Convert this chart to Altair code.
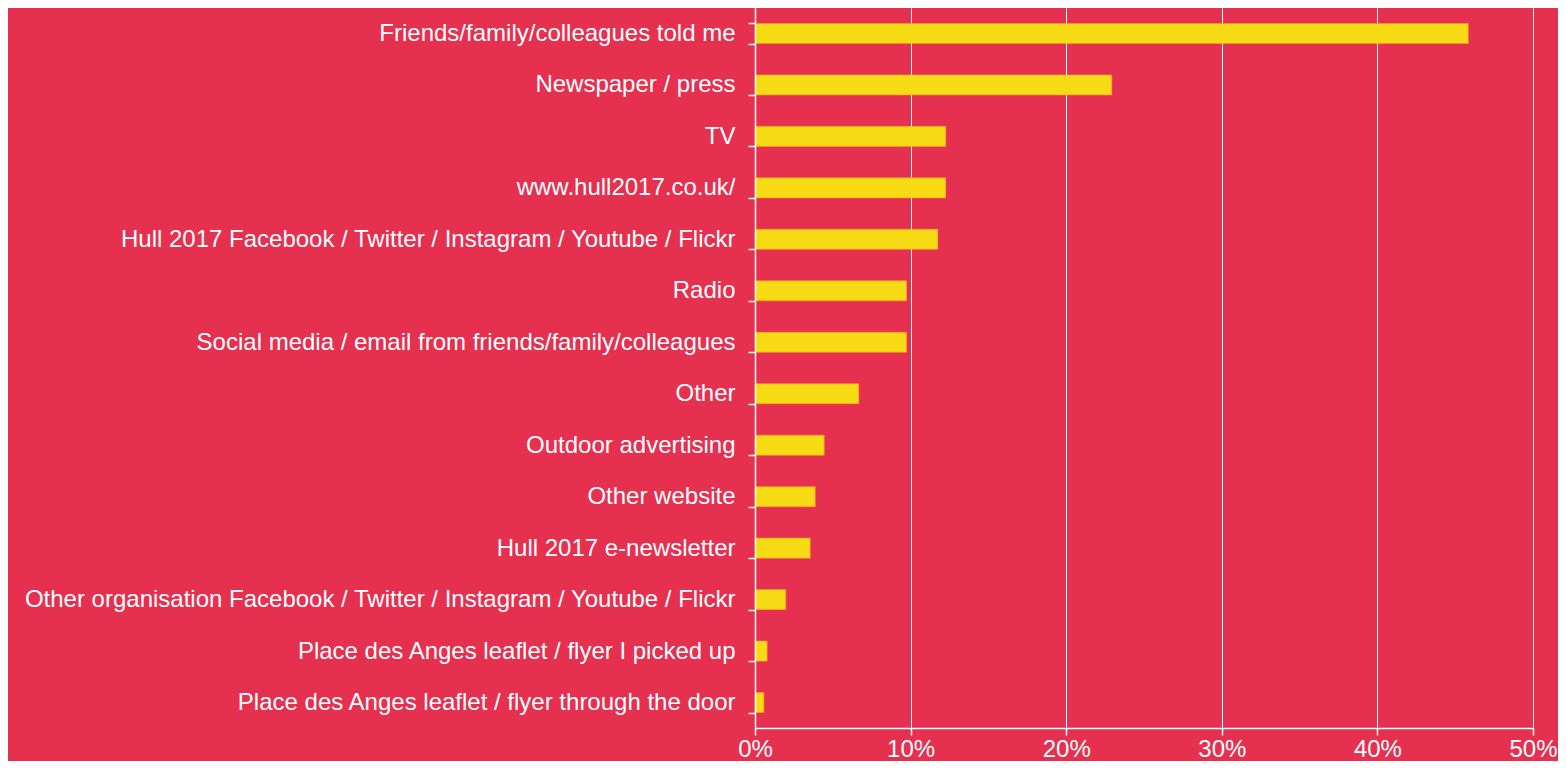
import altair as alt
import pandas as pd

categories = [
    "Friends/family/colleagues told me",
    "Newspaper / press",
    "TV",
    "www.hull2017.co.uk/",
    "Hull 2017 Facebook / Twitter / Instagram / Youtube / Flickr",
    "Radio",
    "Social media / email from friends/family/colleagues",
    "Other ",
    "Outdoor advertising",
    "Other website ",
    "Hull 2017 e-newsletter",
    "Other organisation Facebook / Twitter / Instagram / Youtube / Flickr ",
    "Place des Anges leaflet / flyer I picked up",
    "Place des Anges leaflet / flyer through the door",
]
values = [0.4584, 0.2293, 0.1226, 0.1226, 0.1175, 0.0974, 0.0974, 0.0667,
          0.0445, 0.0387, 0.0355, 0.0198, 0.0078, 0.0057]

df = pd.DataFrame({"source": categories, "share": values})

BG = "#E6304F"
YELLOW = "#F7DC15"

chart = (
    alt.Chart(df)
    .mark_bar(color=YELLOW, stroke="#F29A2E", strokeWidth=0.6)
    .encode(
        y=alt.Y(
            "source:N",
            sort=categories,
            title=None,
            scale=alt.Scale(paddingInner=0.61, paddingOuter=0.3),
            axis=alt.Axis(
                tickBand="extent",
                domainColor="white",
                domainWidth=1.5,
                tickColor="white",
                tickWidth=1.5,
                tickSize=7,
                labelColor="white",
                labelFont="Liberation Sans",
                labelFontSize=24,
                labelPadding=13,
                labelLimit=0,
                grid=False,
                zindex=1,
            ),
        ),
        x=alt.X(
            "share:Q",
            title=None,
            scale=alt.Scale(domain=[0, 0.5], nice=False),
            axis=alt.Axis(
                format=".0%",
                values=[0, 0.1, 0.2, 0.3, 0.4, 0.5],
                domainColor="white",
                domainWidth=1.5,
                tickColor="white",
                tickWidth=1.5,
                tickSize=7,
                gridColor="white",
                gridWidth=1,
                gridOpacity=1,
                labelColor="white",
                labelFont="Liberation Sans",
                labelFontSize=24,
                labelPadding=2,
                labelFlush=False,
            ),
        ),
        tooltip=["source", alt.Tooltip("share:Q", format=".1%")],
    )
    .properties(
        width=778,
        height=720,
        background=BG,
        autosize=alt.AutoSizeParams(type="none"),
        padding={"left": 747, "top": 0, "right": 25, "bottom": 33},
    )
    .configure_view(stroke=None)
)

chart.save("out.html", embed_options={"renderer": "svg", "actions": False})
